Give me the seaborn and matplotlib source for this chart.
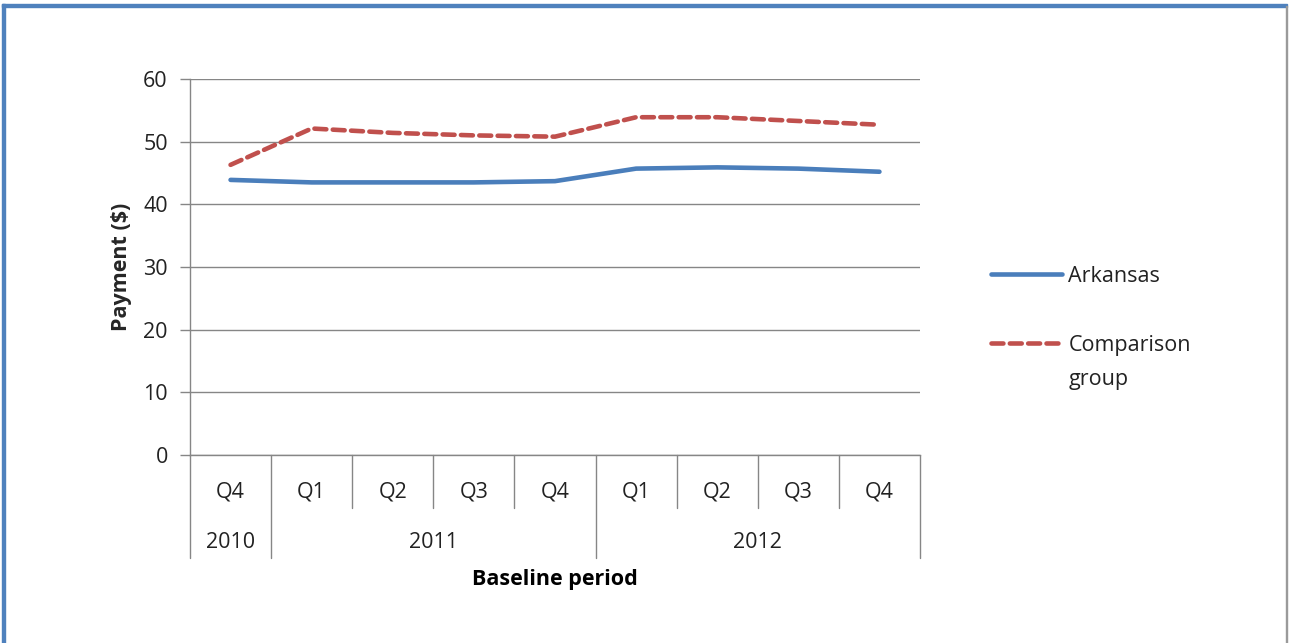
import matplotlib
matplotlib.use("Agg")
import matplotlib.pyplot as plt
import seaborn as sns
import pandas as pd
from matplotlib.lines import Line2D
from matplotlib.patches import Rectangle

# ---- data ----
quarters = ["Q4", "Q1", "Q2", "Q3", "Q4", "Q1", "Q2", "Q3", "Q4"]
years = ["2010", "2011", "2012"]
year_spans = [(0, 0), (1, 4), (5, 8)]   # first/last quarter index per year
arkansas = [43.9, 43.5, 43.5, 43.5, 43.7, 45.7, 45.9, 45.7, 45.2]
comparison = [46.3, 52.1, 51.4, 51.0, 50.8, 53.9, 53.9, 53.3, 52.7]
series_names = ["Arkansas", "Comparison group"]
legend_labels = ["Arkansas", "Comparison"]
yticks = [0, 10, 20, 30, 40, 50, 60]

sns.set_theme(style="white")
plt.rcParams["font.family"] = ["Open Sans", "DejaVu Sans"]

blue = "#4A7EBB"
red = "#C0504D"
grid_c = "#868686"
FS = 15.5
DASH = (2.6, 1.4)

df = pd.DataFrame({
    "pos": list(range(len(quarters))) * 2,
    "value": arkansas + comparison,
    "series": [series_names[0]] * len(arkansas) + [series_names[1]] * len(comparison),
})

fig = plt.figure(figsize=(12.89, 6.43), dpi=100)
ax = fig.add_axes([190 / 1289, 1 - 455 / 643, 730 / 1289, 376 / 643])

sns.lineplot(data=df, x="pos", y="value", hue="series", style="series",
             palette={series_names[0]: blue, series_names[1]: red},
             dashes={series_names[0]: "", series_names[1]: DASH},
             linewidth=3.3, ax=ax, legend=False)
for ln in ax.get_lines():
    ln.set_dash_capstyle("round")
    ln.set_solid_capstyle("round")

ax.set_xlim(-0.5, len(quarters) - 0.5)
ax.set_ylim(0, 60)
ax.set_yticks(yticks)
ax.set_yticklabels([str(v) for v in yticks], fontsize=FS, color="#222222")
ax.tick_params(axis="y", length=7, width=1, color=grid_c, pad=9, left=True)
ax.set_xticks([])
ax.grid(axis="y", color=grid_c, linewidth=1)
ax.set_axisbelow(True)
for s in ["top", "right"]:
    ax.spines[s].set_visible(False)
ax.spines["left"].set_color(grid_c)
ax.spines["bottom"].set_color(grid_c)
ax.spines["left"].set_linewidth(1)
ax.spines["bottom"].set_linewidth(1)
ax.set_xlabel("")
ax.set_ylabel("Payment ($)", fontsize=FS, fontweight="bold", labelpad=8)

# multi-level category axis
tr = ax.get_xaxis_transform()
q_bot = -(508 - 455) / 376
y_bot = -(558 - 455) / 376
year_bounds = set()
for a, b in year_spans:
    year_bounds.add(a - 0.5)
    year_bounds.add(b + 0.5)
for i in range(len(quarters) + 1):
    xb = i - 0.5
    bot = y_bot if xb in year_bounds else q_bot
    ax.plot([xb, xb], [0, bot], transform=tr, color=grid_c, lw=1, clip_on=False)
for i, q in enumerate(quarters):
    ax.text(i, -(492 - 455) / 376, q, transform=tr, ha="center", va="center",
            fontsize=FS, color="#222222")
for yr, (a, b) in zip(years, year_spans):
    ax.text((a + b) / 2, -(543 - 455) / 376, yr, transform=tr, ha="center",
            va="center", fontsize=FS, color="#222222")
ax.text((len(quarters) - 1) / 2, -(580 - 455) / 376, "Baseline period", transform=tr,
        ha="center", va="center", fontsize=FS, fontweight="bold", color="black")

# legend
handles = [Line2D([], [], color=blue, lw=3.3, solid_capstyle="round"),
           Line2D([], [], color=red, lw=3.3, linestyle=(0, DASH),
                  dash_capstyle="round")]
leg = fig.legend(handles, legend_labels, loc="upper left",
                 bbox_to_anchor=(980 / 1289, 1 - 255 / 643), frameon=False,
                 fontsize=FS, handlelength=3.3, handletextpad=0.3,
                 labelspacing=2.22, borderpad=0)
for t in leg.get_texts():
    t.set_color("#222222")
fig.canvas.draw()
bb = leg.get_texts()[1].get_window_extent()
fig.text(bb.x0 / 1289, (bb.y0 - 34 + (bb.y1 - bb.y0) / 2) / 643, "group",
         fontsize=FS, color="#222222", ha="left", va="center")

# frame
fig.patches.append(Rectangle((2 / 1289, 0), 2.5 / 1289, 1 - 4 / 643,
                             transform=fig.transFigure, color="#4F81BD", zorder=10))
fig.patches.append(Rectangle((2 / 1289, 1 - 7 / 643), 1285 / 1289, 3 / 643,
                             transform=fig.transFigure, color="#4F81BD", zorder=10))
fig.patches.append(Rectangle((1286 / 1289, 0), 1 / 1289, 1 - 6 / 643,
                             transform=fig.transFigure, color="#9A9A9A", zorder=10))

fig.savefig("out.png", dpi=100)
